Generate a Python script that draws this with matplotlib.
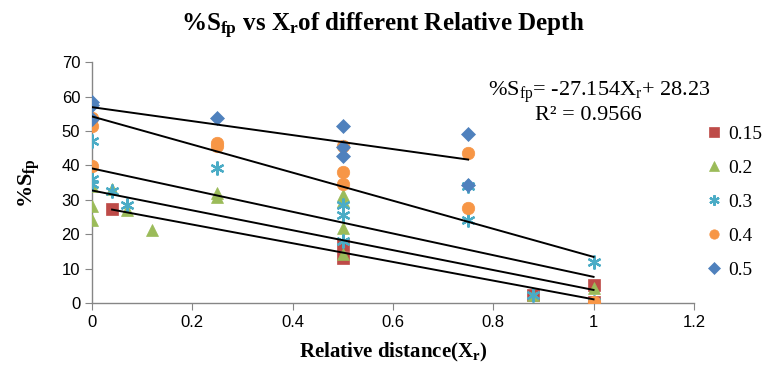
import numpy as np
import matplotlib
matplotlib.use("Agg")
import matplotlib.pyplot as plt

plt.rcParams['mathtext.fontset'] = 'custom'
plt.rcParams['mathtext.rm'] = 'Liberation Serif'
plt.rcParams['mathtext.it'] = 'Liberation Serif:italic'
plt.rcParams['mathtext.bf'] = 'Liberation Serif:bold'

# data
labels = ['0.15', '0.2', '0.3', '0.4', '0.5']
x015 = [0.04, 0.5, 0.5, 0.88, 1.0, 1.0]
y015 = [27.3, 17.0, 13.2, 2.3, 5.2, 0.3]
x02 = [0, 0, 0, 0.04, 0.07, 0.12, 0.25, 0.25, 0.5, 0.5, 0.5, 0.5, 0.88, 1.0]
y02 = [33.9, 28.3, 24.2, 33.0, 27.1, 21.3, 32.0, 30.8, 31.5, 29.5, 21.8, 14.2, 2.3, 4.5]
x03 = [0, 0, 0, 0.04, 0.07, 0.25, 0.5, 0.5, 0.5, 0.75, 0.75, 0.88, 1.0, 1.0]
y03 = [47.0, 36.0, 34.7, 32.5, 28.6, 39.3, 28.6, 25.7, 18.0, 33.9, 24.2, 2.3, 11.8, 0.3]
x04 = [0, 0, 0, 0.25, 0.25, 0.5, 0.5, 0.5, 0.75, 0.75, 1.0]
y04 = [53.8, 51.4, 39.9, 46.6, 45.6, 45.5, 38.0, 34.5, 43.6, 27.6, 0.3]
x05 = [0, 0, 0, 0.25, 0.5, 0.5, 0.5, 0.75, 0.75]
y05 = [58.4, 57.4, 53.4, 53.8, 51.4, 45.2, 42.6, 49.0, 34.2]

# linear trendlines as seen on the chart
trend_slope = [-27.154, -28.9, -31.5, -40.8, -20.3]
trend_intercept = [28.23, 32.7, 39.1, 54.2, 56.9]
trend_xmin = [0.04, 0, 0, 0, 0]
trend_xmax = [1.0, 1.0, 1.0, 1.0, 0.75]

xs = [x015, x02, x03, x04, x05]
ys = [y015, y02, y03, y04, y05]
colors = ['#BE4B48', '#9BBB59', '#4BACC6', '#F79646', '#4F81BD']
markers = ['s', '^', (6, 2, 0), 'o', 'D']
msizes = [9, 9, 10, 9, 7.5]

fig = plt.figure(figsize=(7.65, 3.74), dpi=100)
ax = fig.add_axes([0.1203, 0.1898, 0.7867, 0.6442])

for i in range(5):
    ax.plot(xs[i], ys[i], linestyle='none', marker=markers[i], color=colors[i],
            markersize=msizes[i], markeredgewidth=1.6 if i == 2 else 0.5,
            label=labels[i], zorder=3)

for i in range(5):
    tx = np.array([trend_xmin[i], trend_xmax[i]])
    ax.plot(tx, trend_slope[i] * tx + trend_intercept[i], color='black',
            linewidth=1.4, zorder=4)

ax.set_xlim(0, 1.2)
ax.set_ylim(0, 70)
ax.set_xticks([0, 0.2, 0.4, 0.6, 0.8, 1, 1.2])
ax.set_xticklabels(['0', '0.2', '0.4', '0.6', '0.8', '1', '1.2'])
ax.set_yticks(range(0, 71, 10))
for s in ['top', 'right']:
    ax.spines[s].set_visible(False)
for s in ['left', 'bottom']:
    ax.spines[s].set_color('#868686')
    ax.spines[s].set_linewidth(1.0)
ax.tick_params(direction='out', length=5, color='#868686', labelsize=12,
               labelcolor='black')
for lab in ax.get_xticklabels() + ax.get_yticklabels():
    lab.set_family('Liberation Sans')

fig.text(0.5, 0.93, r'%S$_{\mathbf{fp}}$ vs X$_{\mathbf{r}}$of different Relative Depth',
         ha='center', va='center', fontsize=18, fontweight='bold',
         family='Liberation Serif')
ax.set_xlabel(r'Relative distance(X$_{\mathbf{r}}$)', fontsize=15, fontweight='bold',
              family='Liberation Serif', labelpad=8)
ax.set_ylabel(r'%S$_{\mathbf{fp}}$', fontsize=16, fontweight='bold',
              family='Liberation Serif', labelpad=14)

ax.text(1.027, 0.875, r'%S$_{\mathrm{fp}}$= -27.154X$_{\mathrm{r}}$+ 28.23',
        transform=ax.transAxes, ha='right', va='center', fontsize=16,
        family='Liberation Serif')
ax.text(0.825, 0.78, 'R² = 0.9566', transform=ax.transAxes, ha='center',
        va='center', fontsize=16, family='Liberation Serif')

leg = fig.legend(loc='upper left', bbox_to_anchor=(702 / 765, 1 - 125 / 374),
                 frameon=False, prop={'family': 'Liberation Serif', 'size': 14},
                 handletextpad=0.15, labelspacing=0.85, handlelength=1.2,
                 markerscale=0.75, borderpad=0, borderaxespad=0)

fig.savefig('out.png', dpi=100)
